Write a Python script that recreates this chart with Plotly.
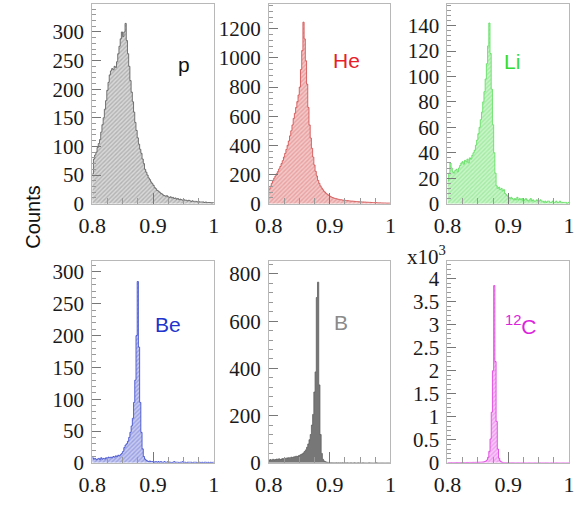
import numpy as np
import plotly.graph_objects as go

# 100 bins of width 0.002 between 0.8 and 1.0
X_MIN, X_MAX, N_BINS = 0.8, 1.0, 100

counts_p = [
    52, 78, 85, 90, 98, 105, 112, 125, 138, 150,
    165, 180, 198, 212, 225, 232, 236, 234, 240, 238,
    248, 262, 275, 288, 300, 292, 300, 315, 285, 262,
    240, 215, 195, 178, 160, 142, 128, 115, 104, 95,
    88, 78, 70, 60, 55, 50, 45, 42, 38, 35,
    32, 28, 26, 23, 22, 20, 18, 17, 15, 14,
    13, 14, 12, 11, 12, 10, 11, 9, 10, 8,
    9, 7, 8, 7, 6, 7, 6, 6, 5, 6,
    5, 4, 5, 4, 4, 4, 3, 4, 3, 3,
    3, 3, 2, 3, 2, 2, 2, 2, 1, 2,
]
counts_he = [
    100, 120, 140, 160, 175, 190, 205, 220, 238, 255,
    275, 295, 320, 345, 372, 400, 430, 465, 500, 540,
    585, 620, 660, 700, 745, 800, 920, 1050, 1245, 1130,
    980, 820, 660, 540, 450, 380, 320, 265, 222, 190,
    160, 140, 122, 108, 96, 85, 76, 68, 62, 56,
    50, 46, 42, 39, 36, 34, 32, 30, 28, 27,
    25, 24, 23, 22, 21, 20, 19, 18, 18, 17,
    16, 15, 15, 14, 13, 13, 12, 12, 11, 11,
    10, 10, 9, 9, 8, 8, 8, 7, 7, 6,
    6, 6, 5, 5, 5, 5, 4, 4, 4, 4,
]
counts_li = [
    18, 24, 32, 28, 25, 24, 26, 27, 25, 28,
    30, 32, 33, 31, 34, 33, 35, 32, 36, 35,
    38, 40, 42, 46, 50, 55, 60, 66, 72, 80,
    88, 98, 110, 124, 142, 118, 90, 62, 40, 24,
    14, 12, 13, 11, 12, 10, 11, 8, 7, 6,
    5, 4, 5, 4, 3, 4, 3, 5, 3, 4,
    3, 4, 2, 3, 4, 3, 2, 3, 4, 2,
    3, 2, 2, 3, 2, 2, 3, 2, 2, 1,
    2, 1, 2, 2, 1, 1, 2, 1, 1, 2,
    1, 1, 2, 1, 1, 1, 1, 1, 0, 1,
]
counts_be = [
    8, 6, 7, 5, 6, 7, 5, 8, 6, 7,
    6, 8, 7, 9, 8, 9, 8, 10, 9, 11,
    10, 12, 11, 13, 15, 18, 24, 28, 30, 34,
    40, 48, 58, 70, 95, 130, 200, 285, 182, 95,
    48, 22, 10, 6, 4, 3, 2, 3, 2, 2,
    2, 1, 2, 1, 2, 1, 2, 1, 1, 2,
    1, 1, 2, 1, 1, 0, 1, 2, 1, 1,
    1, 0, 1, 1, 2, 1, 1, 0, 1, 1,
    1, 1, 0, 1, 1, 1, 0, 1, 1, 0,
    1, 0, 1, 1, 0, 1, 0, 1, 0, 1,
]
counts_b = [
    12, 14, 10, 15, 13, 14, 16, 15, 17, 14,
    16, 18, 17, 19, 20, 21, 22, 20, 24, 23,
    25, 26, 28, 27, 30, 32, 35, 38, 42, 48,
    55, 66, 80, 98, 120, 160, 205, 300, 385, 700,
    765, 330, 120, 40, 15, 8, 5, 3, 2, 2,
    1, 1, 1, 1, 1, 1, 0, 1, 1, 0,
    1, 0, 1, 0, 1, 0, 0, 1, 0, 0,
    1, 0, 0, 1, 0, 0, 0, 1, 0, 0,
    0, 0, 1, 0, 0, 0, 0, 0, 1, 0,
    0, 0, 0, 0, 0, 0, 0, 0, 0, 0,
]
# carbon counts in units of 10^3
counts_c = [
    0.004, 0.005, 0.004, 0.006, 0.005, 0.006, 0.005, 0.006, 0.007, 0.006,
    0.007, 0.006, 0.008, 0.007, 0.008, 0.008, 0.009, 0.008, 0.010, 0.009,
    0.010, 0.011, 0.010, 0.012, 0.011, 0.013, 0.014, 0.015, 0.017, 0.020,
    0.025, 0.035, 0.060, 0.120, 0.250, 0.520, 1.100, 2.000, 3.850, 2.200,
    0.900, 0.300, 0.100, 0.040, 0.020, 0.010, 0.006, 0.005, 0.004, 0.004,
    0.003, 0.003, 0.003, 0.002, 0.003, 0.002, 0.002, 0.002, 0.002, 0.002,
    0.002, 0.001, 0.002, 0.001, 0.001, 0.001, 0.001, 0.001, 0.001, 0.001,
    0.001, 0.001, 0.001, 0.001, 0.001, 0.001, 0.001, 0.000, 0.001, 0.000,
    0.001, 0.000, 0.001, 0.000, 0.000, 0.001, 0.000, 0.000, 0.000, 0.001,
    0.000, 0.000, 0.000, 0.000, 0.000, 0.000, 0.000, 0.000, 0.000, 0.000,
]

species = ["p", "He", "Li", "Be", "B", "<sup>12</sup>C"]
series = [counts_p, counts_he, counts_li, counts_be, counts_b, counts_c]
y_max = [349, 1370, 157, 317, 854, 4.38]
y_major = [50, 200, 20, 50, 200, 0.5]
label_color = ["#111111", "#e8202a", "#33dd33", "#2233cc", "#8a8a8a", "#dd22dd"]
line_color = ["#555555", "#d04848", "#55dd55", "#3344cc", "#606060", "#dd33dd"]
fill_fg = ["#8c8c8c", "#e07a7a", "#7fe07f", "#6f78d8", "#777777", "#e678e6"]
fill_bg = ["#d8d8d8", "#f3c8c8", "#c8f5c8", "#c6caf0", "#777777", "#f7c6f7"]
hatched = [True, True, True, True, False, True]

# panel frames in pixels (left, right, top, bottom) for a 577x508 canvas
W, H = 577, 508
cols_px = [(81, 207), (264, 390), (449, 575)]
rows_px = [(3, 208), (267, 474)]
label_pos_px = [(176, 65), (344, 61), (516, 62), (160, 332), (339, 330), (525, 332)]

edges = np.linspace(X_MIN, X_MAX, N_BINS + 1)

fig = go.Figure()
layout = {}
annotations = []

for i, counts in enumerate(series):
    r, c = divmod(i, 3)
    xl, xr = cols_px[c]
    yt, yb = rows_px[r]
    n = i + 1
    xa = "xaxis" if n == 1 else f"xaxis{n}"
    ya = "yaxis" if n == 1 else f"yaxis{n}"
    xref = "x" if n == 1 else f"x{n}"
    yref = "y" if n == 1 else f"y{n}"

    # step outline of the histogram: repeat last bin so the step closes at x=1
    xs = list(edges)
    ys = list(counts) + [counts[-1]]
    trace = dict(
        x=xs, y=ys, mode="lines", line=dict(shape="hv", color=line_color[i], width=0.8),
        fill="tozeroy", xaxis=xref, yaxis=yref, showlegend=False, hoverinfo="skip",
    )
    if hatched[i]:
        trace["fillcolor"] = fill_bg[i]
        trace["fillpattern"] = dict(shape="/", fgcolor=fill_fg[i], bgcolor=fill_bg[i],
                                    size=3, solidity=0.45)
    else:
        trace["fillcolor"] = fill_fg[i]
    fig.add_trace(go.Scatter(**trace))

    layout[xa] = dict(
        domain=[xl / W, xr / W], anchor=yref, range=[X_MIN, X_MAX],
        tickvals=[0.8, 0.9, 1.0], ticktext=["0.8", "0.9", "1"],
        ticks="inside", ticklen=11, tickcolor="#777777", tickwidth=1,
        minor=dict(dtick=0.025, tick0=0.8, ticks="inside", ticklen=6, tickcolor="#999999"),
        showgrid=False, zeroline=False, showline=True, linecolor="#b8b8b8", mirror=True,
        tickfont=dict(family="Liberation Serif", size=22, color="#1a1a1a"),
        ticklabelstandoff=2,
    )
    layout[ya] = dict(
        domain=[1 - yb / H, 1 - yt / H], anchor=xref, range=[0, y_max[i]],
        dtick=y_major[i], tick0=0,
        ticks="inside", ticklen=9, tickcolor="#777777", tickwidth=1,
        minor=dict(dtick=y_major[i] / 5, ticks="inside", ticklen=4, tickcolor="#999999"),
        showgrid=False, zeroline=False, showline=True, linecolor="#b8b8b8", mirror=True,
        tickfont=dict(family="Liberation Serif", size=21, color="#1a1a1a"),
        ticklabelstandoff=3,
    )
    lx, ly = label_pos_px[i]
    annotations.append(dict(
        x=lx / W, y=1 - ly / H, xref="paper", yref="paper", text=species[i],
        showarrow=False, font=dict(family="Liberation Sans", size=21, color=label_color[i]),
        xanchor="center", yanchor="middle",
    ))

annotations.append(dict(
    x=20 / W, y=1 - 222 / H, xref="paper", yref="paper", text="Counts", textangle=-90,
    showarrow=False, font=dict(family="Liberation Sans", size=20, color="#111111"),
    xanchor="center", yanchor="middle",
))
annotations.append(dict(
    x=405 / W, y=1 - 261 / H, xref="paper", yref="paper", text="x10<sup>3</sup>",
    showarrow=False, font=dict(family="Liberation Serif", size=21, color="#1a1a1a"),
    xanchor="left", yanchor="middle",
))

fig.update_layout(
    width=W, height=H, margin=dict(l=0, r=0, t=0, b=0),
    paper_bgcolor="white", plot_bgcolor="white",
    annotations=annotations, **layout,
)

fig.write_html("out.html")
